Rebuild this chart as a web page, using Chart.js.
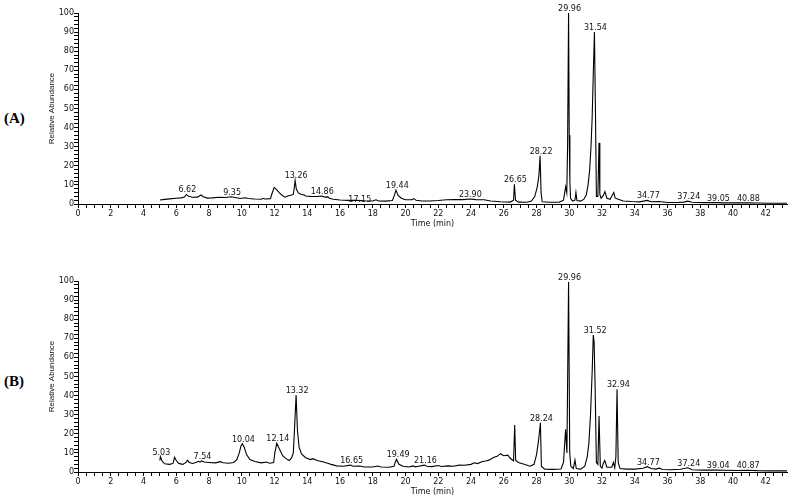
<!DOCTYPE html>
<html>
<head>
<meta charset="utf-8">
<script src="https://cdn.jsdelivr.net/npm/chart.js@4.4.1/dist/chart.umd.min.js"></script>
<style>
  html, body { margin: 0; padding: 0; background: #fff; }
  body { width: 790px; height: 501px; position: relative; overflow: hidden; }
  canvas { position: absolute; left: 0; }
  #cA { top: 0; }
  #cB { top: 268px; }
  .panel { position: absolute; left: 4px; font: bold 15px "Liberation Serif", "Times New Roman", serif; color: #000; line-height: 18px; }
</style>
</head>
<body>
<div class="panel" style="top:109px">(A)</div>
<div class="panel" style="top:372px">(B)</div>
<canvas id="cA" width="790" height="230"></canvas>
<canvas id="cB" width="790" height="230"></canvas>
<script>
// ---- Chromatogram (A) ----
const timeA = [5.0,5.3,5.6,6.0,6.3,6.5,6.62,6.75,7.0,7.3,7.45,7.52,7.65,7.9,8.2,8.6,9.0,9.35,9.6,9.9,10.2,10.4,10.8,11.2,11.3,11.4,11.75,11.85,11.98,12.1,12.3,12.5,12.65,12.8,13.0,13.15,13.2,13.26,13.33,13.45,13.65,13.8,13.9,14.2,14.6,14.86,15.1,15.25,15.35,15.6,16.0,16.5,17.0,17.5,18.0,18.2,18.35,18.8,19.2,19.32,19.42,19.55,19.75,20.0,20.4,20.5,20.65,21.0,21.5,22.0,22.5,23.0,23.5,23.9,24.3,24.8,25.2,25.8,26.4,26.6,26.65,26.72,26.9,27.4,27.7,27.9,28.05,28.15,28.22,28.28,28.35,28.8,29.4,29.65,29.78,29.85,29.9,29.96,30.0,30.04,30.08,30.2,30.35,30.41,30.47,30.7,30.9,31.05,31.15,31.25,31.33,31.4,31.47,31.54,31.6,31.66,31.75,31.82,31.87,31.95,32.08,32.18,32.3,32.5,32.65,32.72,32.8,32.95,33.3,33.8,34.3,34.77,35.0,35.5,36.0,36.6,37.0,37.24,37.5,38.2,39.05,39.5,40.3,40.88,41.5,42.3,43.3];
const absA  = [2.1,2.4,2.7,3.0,3.2,3.6,5.0,4.0,3.5,3.6,4.4,4.7,3.8,3.1,3.2,3.5,3.4,3.8,3.4,2.9,3.3,2.9,2.6,2.5,3.0,2.6,2.8,5.5,8.7,7.8,5.8,4.3,3.6,4.2,4.6,5.0,8.0,12.4,8.0,5.8,5.0,4.8,4.2,4.0,3.9,4.2,3.6,3.7,3.0,2.5,2.1,1.9,1.9,1.7,1.6,2.2,1.6,1.5,1.8,4.5,7.3,4.5,3.0,2.2,2.2,2.8,2.0,1.6,1.6,1.8,2.2,2.3,2.3,2.6,2.3,2.2,1.6,1.2,1.0,2.0,10.3,2.0,1.0,0.9,1.5,4.0,9.0,15.0,25.3,6.0,1.2,0.9,1.0,2.0,9.0,6.0,30,100,36,12,3.0,1.5,2.0,6.0,1.8,1.5,2.5,5,10,18,30,45,68,90,50,4,4.0,32,5,3.0,4.5,6.5,3.0,2.5,5.0,6.0,3.2,2.6,1.6,1.3,1.1,1.9,1.2,1.3,0.8,0.8,1.0,1.5,0.9,0.7,0.7,0.6,0.6,0.6,0.5,0.4,0.4];
const peakLabelsA = ['6.62','9.35','13.26','14.86','17.15','19.44','23.90','26.65','28.22','29.96','31.54','34.77','37.24','39.05','40.88'];

// ---- Chromatogram (B) ----
const timeB = [5.0,5.03,5.15,5.3,5.6,5.8,5.9,6.0,6.15,6.4,6.6,6.68,6.8,7.0,7.2,7.35,7.45,7.54,7.7,8.0,8.4,8.7,8.85,9.2,9.5,9.7,9.85,9.95,10.04,10.15,10.3,10.5,10.8,11.2,11.5,11.7,11.95,12.02,12.14,12.3,12.5,12.7,12.9,13.05,13.15,13.22,13.32,13.4,13.5,13.65,13.9,14.2,14.35,14.6,15.0,15.3,15.45,15.8,16.2,16.65,16.8,17.2,17.5,18.0,18.3,18.5,19.0,19.3,19.37,19.45,19.6,19.85,20.2,20.47,20.6,20.8,21.16,21.3,21.6,22.0,22.2,22.6,22.9,23.3,23.6,24.0,24.2,24.4,24.7,24.9,25.1,25.4,25.6,25.8,26.0,26.25,26.4,26.6,26.67,26.73,26.9,27.2,27.6,27.85,28.0,28.12,28.24,28.3,28.5,29.0,29.5,29.65,29.78,29.86,29.96,30.03,30.1,30.25,30.35,30.43,30.7,30.95,31.1,31.2,31.3,31.4,31.47,31.52,31.58,31.66,31.75,31.82,31.9,32.0,32.08,32.17,32.3,32.6,32.7,32.78,32.85,32.92,32.99,33.1,33.5,34.0,34.5,34.77,35.0,35.3,35.5,35.7,36.2,36.8,37.24,37.5,38.2,39.04,39.5,40.3,40.87,41.5,42.3,43.3];
const absB  = [6.0,8.0,5.5,4.3,4.0,4.5,7.7,6.0,4.5,4.0,5.0,6.2,5.0,4.5,5.0,5.6,5.2,5.8,5.2,5.0,4.8,5.4,4.8,4.6,5.0,6.5,10.0,13.5,14.8,13,9.0,6.5,5.5,4.8,5.2,4.6,5.0,10,15.0,12,8.5,7.0,6.0,7.5,10,22,40.3,22,13,9.5,7.5,6.5,7.0,6.0,5.2,4.5,4.0,3.2,3.0,3.6,3.0,3.1,2.6,2.6,3.1,2.6,2.5,3.0,5.0,6.6,4.0,3.0,2.6,3.2,2.7,3.0,3.6,3.0,2.8,3.4,2.9,3.2,3.0,3.6,3.5,4.0,4.8,4.4,5.5,5.8,6.2,7.7,8.2,9.6,8.5,8.8,7.2,5.8,24.6,6.0,5.0,4.2,3.0,4.0,9.0,16,25.8,3.0,1.5,1.4,1.6,5,22.3,10,99.5,10,3,1.8,6.3,1.8,1.5,3,8,15,30,52,71.7,68,45,5,4,29.3,3,2,4.5,6.0,2.5,2.5,5.0,2.2,8,43.3,5,1.8,1.5,1.5,2.0,2.8,1.8,1.5,2.0,1.3,1.2,1.4,2.2,1.2,1.0,1.0,0.9,0.8,0.9,0.7,0.6,0.6];
const peakLabelsB = ['5.03','7.54','10.04','12.14','13.32','16.65','19.49','21.16','28.24','29.96','31.52','32.94','34.77','37.24','39.04','40.87'];

// ---- axis ticks ----
const xMin = 0, xMax = 43.3, xStep = 0.5, xLabelEvery = 2;
const yMin = 0, yMax = 100, yStep = 2, yLabelEvery = 10;

const TXT = '#111';
const FONT = '"DejaVu Sans", sans-serif';

const peakLabelPlugin = {
  id: 'peakLabels',
  afterDatasetsDraw(chart, args, opts) {
    const {ctx, scales: {x, y}} = chart;
    const data = chart.data.datasets[0].data;
    ctx.save();
    ctx.font = '8px ' + FONT;
    ctx.fillStyle = TXT;
    ctx.textAlign = 'center';
    ctx.textBaseline = 'alphabetic';
    (opts.labels || []).forEach(lbl => {
      const t = parseFloat(lbl);
      let v = 0;
      data.forEach(p => { if (Math.abs(p.x - t) <= 0.12 && p.y > v) v = p.y; });
      ctx.fillText(lbl, x.getPixelForValue(t) + 1, y.getPixelForValue(v) - 2);
    });
    ctx.restore();
  }
};

function makeChart(id, times, values, labels) {
  const pts = times.map((t, i) => ({x: t, y: values[i]}));
  return new Chart(document.getElementById(id), {
    type: 'line',
    data: { datasets: [{ data: pts, borderColor: '#000', borderWidth: 1.1, pointRadius: 0, tension: 0, fill: false, clip: false }] },
    plugins: [peakLabelPlugin],
    options: {
      responsive: false,
      animation: false,
      devicePixelRatio: 1,
      layout: { padding: { top: 13, left: 47, right: 3, bottom: 1 } },
      plugins: {
        legend: { display: false },
        tooltip: { enabled: false },
        peakLabels: { labels: labels }
      },
      scales: {
        x: {
          type: 'linear', min: xMin, max: xMax,
          afterFit: s => { s.height = 25; },
          border: { display: true, color: '#000', width: 1 },
          grid: { display: true, drawOnChartArea: false, drawTicks: true, tickLength: 4, tickColor: '#000', tickWidth: 1 },
          ticks: {
            stepSize: xStep, autoSkip: false, maxRotation: 0, minRotation: 0, includeBounds: false,
            padding: 1, color: TXT, font: { family: FONT, size: 8 },
            callback: v => (Math.abs(v / xLabelEvery - Math.round(v / xLabelEvery)) < 1e-6 ? String(Math.round(v)) : '')
          },
          title: { display: true, text: 'Time (min)', color: TXT, font: { family: FONT, size: 8, lineHeight: 1.2 }, padding: 0 }
        },
        y: {
          type: 'linear', min: yMin, max: yMax,
          afterFit: s => { s.width = 31; },
          border: { display: true, color: '#000', width: 1 },
          grid: { display: true, drawOnChartArea: false, drawTicks: true, tickLength: 4, tickColor: '#000', tickWidth: 1 },
          ticks: {
            stepSize: yStep, autoSkip: false, padding: 0, color: TXT, font: { family: FONT, size: 8 },
            callback: v => (v % yLabelEvery === 0 ? String(v) : '')
          },
          title: { display: true, text: 'Relative Abundance', color: TXT, font: { family: '"Liberation Sans", Arial, sans-serif', size: 8, lineHeight: 1.2 }, padding: 0 }
        }
      }
    }
  });
}

makeChart('cA', timeA, absA, peakLabelsA);
makeChart('cB', timeB, absB, peakLabelsB);
</script>
</body>
</html>
